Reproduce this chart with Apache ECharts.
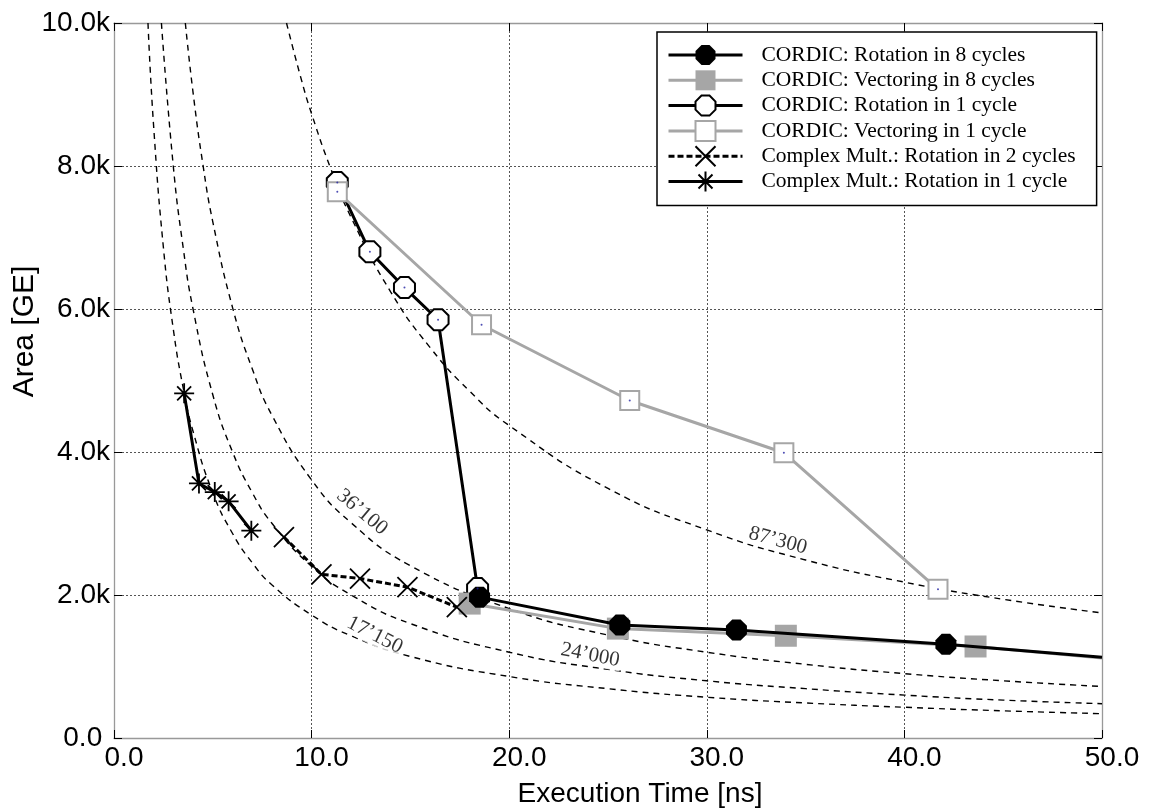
<!DOCTYPE html>
<html lang="en">
<head>
    <meta charset="UTF-8">
    <title>Area vs execution time</title>
    <script src="https://cdn.jsdelivr.net/npm/echarts@6/dist/echarts.min.js"></script>
    <style type="text/css">
        body {
            margin: 0px;
            padding: 0px;
            background: #fff;
        }

        #chart {
            width: 1150px;
            height: 809px;
        }
    </style>
</head>

<body>
    <div id="chart"></div>
</body>

<script>
    // axis ticks
    const xTicks = [0, 10, 20, 30, 40, 50];
    const yTicks = [0, 2000, 4000, 6000, 8000, 10000];

    // CORDIC: Rotation in 8 cycles (last point = where the line leaves the plot)
    const rot8X = [18.5, 25.6, 31.5, 42.1, 50];
    const rot8Y = [1970, 1580, 1510, 1310, 1130];

    // CORDIC: Vectoring in 8 cycles
    const vec8X = [18.0, 25.5, 34.0, 43.6, 50];
    const vec8Y = [1880, 1530, 1430, 1280, 1120];

    // CORDIC: Rotation in 1 cycle
    const rot1X = [11.3, 12.95, 14.7, 16.4, 18.4];
    const rot1Y = [7770, 6800, 6300, 5850, 2090];

    // CORDIC: Vectoring in 1 cycle
    const vec1X = [11.3, 18.6, 26.1, 33.9, 41.7];
    const vec1Y = [7640, 5780, 4720, 3990, 2080];

    // Complex Mult.: Rotation in 2 cycles
    const cm2X = [8.6, 10.5, 12.45, 14.85, 17.35];
    const cm2Y = [2810, 2290, 2230, 2110, 1830];

    // Complex Mult.: Rotation in 1 cycle
    const cm1X = [3.55, 4.3, 5.1, 5.8, 6.95];
    const cm1Y = [4820, 3560, 3440, 3310, 2900];

    // dashed iso lines (area x time)
    const iso17X = [1.72, 2, 2.5, 3, 3.5, 4, 5, 6, 7, 8, 10, 12, 15, 20, 25, 30, 35, 40, 45, 50];
    const iso17Y = [10000, 8580, 6860, 5720, 4900, 4290, 3430, 2860, 2450, 2140, 1720, 1430, 1140, 860, 690, 570, 490, 430, 380, 340];
    const iso24X = [2.4, 3, 3.5, 4, 5, 6, 7, 8, 10, 12, 15, 20, 25, 30, 35, 40, 45, 50];
    const iso24Y = [10000, 8000, 6860, 6000, 4800, 4000, 3430, 3000, 2400, 2000, 1600, 1200, 960, 800, 690, 600, 530, 480];
    const iso36X = [3.61, 4, 4.5, 5, 6, 7, 8, 10, 12, 15, 20, 25, 30, 35, 40, 45, 50];
    const iso36Y = [10000, 9030, 8020, 7220, 6020, 5160, 4510, 3610, 3010, 2410, 1810, 1440, 1200, 1030, 900, 800, 720];
    const iso87X = [8.73, 9.5, 10, 11, 12, 14, 16, 18, 20, 25, 30, 35, 40, 45, 50];
    const iso87Y = [10000, 9190, 8730, 7940, 7280, 6240, 5460, 4850, 4370, 3490, 2910, 2490, 2180, 1940, 1750];

    // iso line labels
    const isoNames = ["17\u2019150", "24\u2019000", "36\u2019100", "87\u2019300"];
    const isoLabelX = [13.2, 24.1, 12.55, 33.6];
    const isoLabelY = [1440, 1160, 3160, 2760];

    const seriesNames = [
        "CORDIC: Rotation in 8 cycles",
        "CORDIC: Vectoring in 8 cycles",
        "CORDIC: Rotation in 1 cycle",
        "CORDIC: Vectoring in 1 cycle",
        "Complex Mult.: Rotation in 2 cycles",
        "Complex Mult.: Rotation in 1 cycle"
    ];

    const GREY = "#a6a6a6";
    const OCTAGON = "path://M30 0L70 0L100 30L100 70L70 100L30 100L0 70L0 30Z";
    const ASTERISK = "path://M50 0L50 100M0 50L100 50M15 15L85 85M85 15L15 85";
    const CROSS = "path://M0 0L100 100M100 0L0 100";

    function pairs(xs, ys) {
        return xs.map((x, i) => [x, ys[i]]);
    }

    // the last point only marks where the line runs out of the plot
    function edgeLast(xs, ys) {
        const d = pairs(xs, ys);
        d[d.length - 1] = { value: d[d.length - 1], symbol: "none" };
        return d;
    }

    function isoSeries(xs, ys) {
        return {
            type: "line",
            data: pairs(xs, ys),
            smooth: 0.5,
            symbol: "none",
            silent: true,
            z: 2,
            lineStyle: { color: "#000", width: 1.4, type: [6, 5] }
        };
    }

    const isoRotate = [-27, -11, -40, -15];

    var myChart = echarts.init(document.getElementById("chart"), null, { renderer: "canvas" });

    const axisFont = "Liberation Sans";

    var option = {
        animation: false,
        backgroundColor: "#fff",
        grid: { left: 114, right: 48, top: 23, bottom: 71, outerBoundsMode: "none", containLabel: false },

        legend: {
            data: seriesNames,
            orient: "vertical",
            left: 657,
            top: 32,
            padding: [12, 21, 13, 10],
            itemWidth: 74,
            itemHeight: 25,
            itemGap: 3.3,
            borderColor: "#000",
            borderWidth: 1.5,
            backgroundColor: "#fff",
            selectedMode: false,
            z: 20,
            lineStyle: { width: 3 },
            textStyle: {
                fontFamily: "Liberation Serif",
                fontSize: 21.5,
                color: "#000",
                padding: [0, 0, 0, 14]
            }
        },

        xAxis: [
            {
                type: "value",
                min: xTicks[0],
                max: xTicks[xTicks.length - 1],
                interval: xTicks[1] - xTicks[0],
                name: "Execution Time [ns]",
                nameLocation: "middle",
                nameGap: 42,
                nameMoveOverlap: false,
                nameTextStyle: {
                    fontFamily: axisFont, fontSize: 28, color: "#000",
                    padding: [0, 0, 0, 64]
                },
                axisLine: { show: true, onZero: false, lineStyle: { color: "#999", width: 1.3 } },
                axisTick: { show: true, inside: true, length: 8, lineStyle: { color: "#000", width: 1 } },
                axisLabel: {
                    fontFamily: axisFont, fontSize: 28, color: "#000", margin: 6,
                    padding: [0, 0, 0, 20],
                    formatter: (v) => v.toFixed(1)
                },
                splitLine: { show: true, lineStyle: { color: "#555", width: 1, type: [2, 2] } }
            },
            {
                type: "value",
                position: "top",
                min: xTicks[0],
                max: xTicks[xTicks.length - 1],
                interval: xTicks[1] - xTicks[0],
                axisLine: { show: true, onZero: false, lineStyle: { color: "#999", width: 1.3 } },
                axisTick: { show: true, inside: true, length: 8, lineStyle: { color: "#000", width: 1 } },
                axisLabel: { show: false },
                splitLine: { show: false }
            }
        ],

        yAxis: [
            {
                type: "value",
                min: yTicks[0],
                max: yTicks[yTicks.length - 1],
                interval: yTicks[1] - yTicks[0],
                name: "Area [GE]",
                nameLocation: "middle",
                nameGap: 74,
                nameMoveOverlap: false,
                nameTextStyle: {
                    fontFamily: axisFont, fontSize: 30, color: "#000",
                    padding: [0, 0, 0, 98]
                },
                axisLine: { show: true, onZero: false, lineStyle: { color: "#999", width: 1.3 } },
                axisTick: { show: true, inside: true, length: 8, lineStyle: { color: "#000", width: 1 } },
                axisLabel: {
                    fontFamily: axisFont, fontSize: 28, color: "#000", margin: 4,
                    formatter: (v) => v === 0 ? "0.0 " : (v / 1000).toFixed(1) + "k"
                },
                splitLine: { show: true, lineStyle: { color: "#555", width: 1, type: [2, 2] } }
            },
            {
                type: "value",
                position: "right",
                min: yTicks[0],
                max: yTicks[yTicks.length - 1],
                interval: yTicks[1] - yTicks[0],
                axisLine: { show: true, onZero: false, lineStyle: { color: "#999", width: 1.3 } },
                axisTick: { show: true, inside: true, length: 8, lineStyle: { color: "#000", width: 1 } },
                axisLabel: { show: false },
                splitLine: { show: false }
            }
        ],

        series: [
            isoSeries(iso17X, iso17Y),
            isoSeries(iso24X, iso24Y),
            isoSeries(iso36X, iso36Y),
            isoSeries(iso87X, iso87Y),
            {
                // iso line labels
                type: "scatter",
                silent: true,
                z: 3,
                symbolSize: 0,
                data: isoNames.map((n, i) => ({
                    value: [isoLabelX[i], isoLabelY[i]],
                    name: n,
                    label: { rotate: isoRotate[i] }
                })),
                label: {
                    show: true,
                    position: "inside",
                    formatter: (p) => p.name,
                    fontFamily: "Liberation Serif",
                    fontSize: 21,
                    color: "#000",
                    backgroundColor: "#fff",
                    padding: [0, 2]
                }
            },
            {
                name: seriesNames[2],
                type: "line",
                z: 4,
                data: pairs(rot1X, rot1Y),
                symbol: OCTAGON,
                symbolSize: 21,
                lineStyle: { color: "#000", width: 3 },
                itemStyle: { color: "#fff", borderColor: "#000", borderWidth: 2 }
            },
            {
                name: seriesNames[3],
                type: "line",
                z: 5,
                data: pairs(vec1X, vec1Y),
                symbol: "rect",
                symbolSize: 19,
                lineStyle: { color: GREY, width: 3 },
                itemStyle: { color: "#fff", borderColor: GREY, borderWidth: 2 }
            },
            {
                name: seriesNames[1],
                type: "line",
                z: 6,
                data: edgeLast(vec8X, vec8Y),
                symbol: "rect",
                symbolSize: 22,
                lineStyle: { color: GREY, width: 3 },
                itemStyle: { color: GREY }
            },
            {
                name: seriesNames[0],
                type: "line",
                z: 7,
                data: edgeLast(rot8X, rot8Y),
                symbol: OCTAGON,
                symbolSize: 21,
                lineStyle: { color: "#000", width: 3 },
                itemStyle: { color: "#000" }
            },
            {
                name: seriesNames[4],
                type: "line",
                z: 8,
                data: pairs(cm2X, cm2Y),
                symbol: CROSS,
                symbolSize: 20,
                lineStyle: { color: "#000", width: 3, type: [6, 3] },
                itemStyle: { color: "#000", borderColor: "#000", borderWidth: 1.8 }
            },
            {
                name: seriesNames[5],
                type: "line",
                z: 9,
                data: pairs(cm1X, cm1Y),
                symbol: ASTERISK,
                symbolSize: 20,
                lineStyle: { color: "#000", width: 3 },
                itemStyle: { color: "#000", borderColor: "#000", borderWidth: 1.8 }
            },
            {
                // small centre dots of the open markers
                type: "scatter",
                silent: true,
                z: 10,
                symbolSize: 2,
                data: pairs(rot1X, rot1Y).concat(pairs(vec1X, vec1Y)),
                itemStyle: { color: "#2020a0" }
            }
        ]
    };

    myChart.setOption(option);
</script>

</html>
